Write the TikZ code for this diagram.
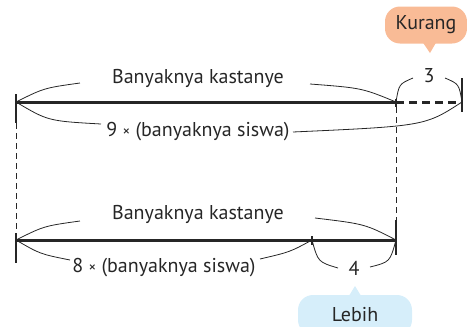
\documentclass[tikz,border=0pt]{standalone}
\usepackage{fontspec}
\setmainfont{PT Sans}
\usetikzlibrary{positioning}
\definecolor{kurangfill}{RGB}{249,187,150}
\definecolor{lebihfill}{RGB}{214,238,250}
\newcommand{\kali}{{\fontsize{15}{15}\selectfont\raisebox{0.5pt}{×}}}

\begin{document}
\begin{tikzpicture}[
        x=1pt, y=-1pt,
        font=\fontsize{20}{24}\selectfont,
        bar/.style={line width=3pt, black!85},
        dashbar/.style={line width=3pt, black!85, dash pattern=on 8pt off 5pt},
        tick/.style={line width=1.3pt, black!85},
        guide/.style={line width=0.8pt, black!85, dash pattern=on 6pt off 4pt},
        arc/.style={line width=0.8pt, black!85},
        label/.style={inner sep=1pt, text=black!85},
        bubble/.style={rounded corners=15pt, minimum height=37pt, inner xsep=6pt, text=black!85}
    ]
    \useasboundingbox (0,0) rectangle (467,327);

    % Points on the bars
    \coordinate (a1) at (16,102);
    \coordinate (b1) at (396,102);
    \coordinate (c1) at (462,102);
    \coordinate (a2) at (16,240);
    \coordinate (b2) at (312,240);
    \coordinate (c2) at (396,240);

    % Labels
    \node [label] (kas1) at (198,78) {Banyaknya kastanye};
    \node [label] (siswa9) at (198,132) {9 \kali{} (banyaknya siswa)};
    \node [label] (three) at (429,76) {3};
    \node [label] (kas2) at (198,214) {Banyaknya kastanye};
    \node [label] (siswa8) at (164,268) {8 \kali{} (banyaknya siswa)};
    \node [label] (four) at (354,268) {4};

    % Bubbles
    \coordinate (kurtip) at (430,53);
    \node [bubble, fill=kurangfill, minimum width=82pt] (kurang) at (426,25) {Kurang};
    \fill [kurangfill] ([xshift=-3pt,yshift=1pt]kurang.south) -- (kurtip) -- ([xshift=10pt,yshift=1pt]kurang.south);
    \coordinate (lebtip) at (355,286);
    \node [bubble, fill=lebihfill, minimum width=114pt, minimum height=40pt] (lebih) at (355,315) {Lebih};
    \fill [lebihfill] ([xshift=-6pt,yshift=-1pt]lebih.north) -- (lebtip) -- ([xshift=6pt,yshift=-1pt]lebih.north);

    % Arc ends near the labels
    \coordinate (k1l) at (80,83);
    \coordinate (k1r) at (310,84);
    \coordinate (s9l) at (101,124);
    \coordinate (s9r) at (293,132);
    \coordinate (t3l) at (413,78);
    \coordinate (t3r) at (445,78);
    \coordinate (k2l) at (80,221);
    \coordinate (k2r) at (315,218);
    \coordinate (s8l) at (70,260);
    \coordinate (s8r) at (260,259);
    \coordinate (f4l) at (338,268);
    \coordinate (f4r) at (370,267);

    % Bars
    \draw [bar] (a1) -- (b1);
    \draw [dashbar] (b1) -- (c1);
    \draw [bar] (a2) -- (c2);
    \draw [tick] ([yshift=8pt]a1) -- ([yshift=-21pt]a1);
    \draw [tick] ([yshift=24pt]c1) -- ([yshift=-10pt]c1);
    \draw [tick] ([yshift=3pt]b1) -- ([yshift=-5pt]b1);
    \draw [tick] ([yshift=7pt]a2) -- ([yshift=-23pt]a2);
    \draw [tick] ([yshift=20pt]c2) -- ([yshift=-15pt]c2);
    \draw [tick] ([yshift=4pt]b2) -- ([yshift=-5pt]b2);
    \draw [guide] ([yshift=-21pt]a1) -- ([yshift=7pt]a2);
    \draw [guide] ([yshift=-5pt]b1) -- ([yshift=20pt]c2);

    % Edges
    \draw [arc] (a1) .. controls (44,88) .. (k1l);
    \draw [arc] (k1r) .. controls (362,88) .. (b1);
    \draw [arc] (a1) .. controls (48,121) .. (s9l);
    \draw [arc] (s9r) .. controls (425,126) .. (c1);
    \draw [arc] (b1) .. controls (399,84) .. (t3l);
    \draw [arc] (t3r) .. controls (459,84) .. (c1);
    \draw [arc] (a2) .. controls (44,226) .. (k2l);
    \draw [arc] (k2r) .. controls (365,224) .. (c2);
    \draw [arc] (a2) .. controls (40,254) .. (s8l);
    \draw [arc] (s8r) .. controls (290,252) .. (b2);
    \draw [arc] (b2) .. controls (318,262) .. (f4l);
    \draw [arc] (f4r) .. controls (390,262) .. (c2);

\end{tikzpicture}
\end{document}
